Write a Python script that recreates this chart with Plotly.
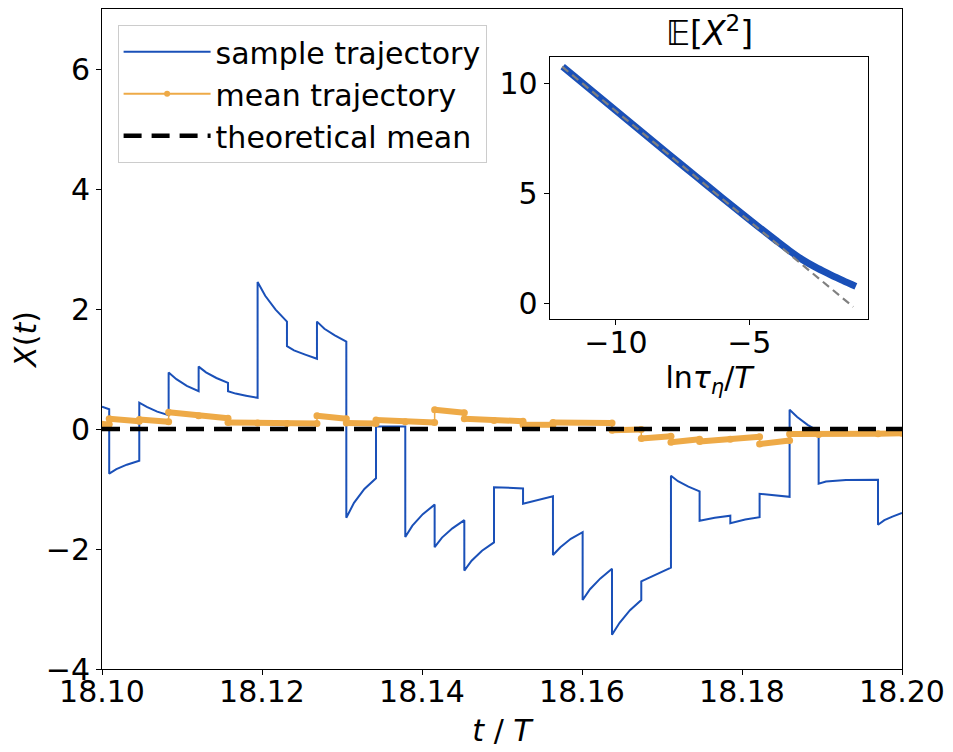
import plotly.graph_objects as go

# sample trajectory (jump process)
sample_t = [
    18.1000, 18.1009,
    18.1009, 18.1018, 18.1031, 18.10466,
    18.10466, 18.1056, 18.1069, 18.10833,
    18.10833, 18.1093, 18.1106, 18.11208,
    18.11208, 18.1130, 18.1143, 18.11575,
    18.11575, 18.1167, 18.1180, 18.11945,
    18.11945, 18.1204, 18.1217, 18.12312,
    18.12312, 18.1240, 18.1254, 18.12687,
    18.12687, 18.1278, 18.1291, 18.13054,
    18.13054, 18.1315, 18.1328, 18.13425,
    18.13425, 18.13791,
    18.13791, 18.1388, 18.1401, 18.14158,
    18.14158, 18.1425, 18.1438, 18.14529,
    18.14529, 18.1462, 18.1475, 18.14900,
    18.14900, 18.1508, 18.15263,
    18.15263, 18.1545, 18.15637,
    18.15637, 18.1573, 18.1586, 18.16008,
    18.16008, 18.1610, 18.1623, 18.16375,
    18.16375, 18.1647, 18.1660, 18.16741,
    18.16741, 18.1693, 18.17112,
    18.17112, 18.1720, 18.1733, 18.17470,
    18.17470, 18.1766, 18.17854,
    18.17854, 18.1804, 18.18220,
    18.18220, 18.1841, 18.18595,
    18.18595, 18.1869, 18.1882, 18.18958,
    18.18958, 18.1905, 18.1930, 18.19700,
    18.19700, 18.1978, 18.1988, 18.2000,
]
sample_x = [
    0.37, 0.33,
    -0.745, -0.67, -0.595, -0.53,
    0.44, 0.37, 0.29, 0.23,
    0.94, 0.83, 0.72, 0.63,
    1.04, 0.945, 0.85, 0.77,
    0.63, 0.59, 0.555, 0.52,
    2.45, 2.22, 1.99, 1.79,
    1.38, 1.31, 1.24, 1.17,
    1.79, 1.67, 1.56, 1.455,
    -1.48, -1.23, -1.00, -0.82,
    0.04, 0.04,
    -1.80, -1.61, -1.42, -1.26,
    -1.97, -1.81, -1.655, -1.52,
    -2.36, -2.195, -2.03, -1.89,
    -0.97, -0.985, -0.99,
    -1.245, -1.18, -1.12,
    -2.10, -1.97, -1.83, -1.72,
    -2.85, -2.67, -2.49, -2.33,
    -3.43, -3.23, -3.02, -2.85,
    -2.54, -2.42, -2.31,
    -0.78, -0.87, -0.96, -1.04,
    -1.53, -1.48, -1.445,
    -1.57, -1.51, -1.47,
    -1.08, -1.11, -1.13,
    0.32, 0.20, 0.07, -0.04,
    -0.91, -0.875, -0.85, -0.845,
    -1.595, -1.52, -1.46, -1.40,
]

# mean trajectory
mean_t = [18.1000, 18.1009, 18.1009, 18.10466, 18.10466, 18.10833, 18.10833, 18.11208,
          18.11575, 18.11575, 18.11945, 18.12312, 18.12687, 18.12687, 18.13054, 18.13054,
          18.13425, 18.13425, 18.13791, 18.14158, 18.14158, 18.14529, 18.14529, 18.14900,
          18.15263, 18.15263, 18.15637, 18.15637, 18.16375, 18.16375, 18.16741, 18.16741,
          18.17112, 18.17112, 18.17470, 18.17470, 18.17854, 18.18220, 18.18220, 18.18595,
          18.18595, 18.18958, 18.19700, 18.20000]
mean_x = [0.08, 0.08, 0.17, 0.13, 0.16, 0.12, 0.28, 0.22,
          0.18, 0.11, 0.10, 0.09, 0.09, 0.22, 0.17, 0.10,
          0.09, 0.15, 0.12, 0.11, 0.32, 0.27, 0.17, 0.14,
          0.13, 0.07, 0.07, 0.11, 0.10, -0.02, -0.01, -0.16,
          -0.12, -0.22, -0.17, -0.21, -0.17, -0.13, -0.25, -0.19,
          -0.085, -0.09, -0.08, -0.07]

theo_t = [18.10, 18.20]
theo_x = [0, 0]

# inset: E[X^2] vs ln tau_eta / T
ln_tau = [-12, -11, -10, -9, -8, -7, -6, -5, -4, -3.5, -3, -2.5, -2, -1.5, -1]
ex2 = [10.75, 9.75, 8.75, 7.75, 6.75, 5.76, 4.77, 3.8, 2.85, 2.39, 1.97, 1.62, 1.32, 1.03, 0.76]
fit_tau = [-12.02, -1.1]
fit_ex2 = [10.75, -0.17]

blue = '#1a50b8'
orange = '#eeaa47'
font = 'DejaVu Sans'

# dense dots of the mean curve -> thick band broken at the jumps
band_t, band_x = [], []
for i in range(len(mean_t)):
    if i > 0 and mean_t[i] == mean_t[i-1]:
        band_t.append(None)
        band_x.append(None)
    band_t.append(mean_t[i])
    band_x.append(mean_x[i])

fig = go.Figure()
fig.add_trace(go.Scatter(x=sample_t, y=sample_x, mode='lines', name='sample trajectory',
                         line=dict(color=blue, width=2)))
fig.add_trace(go.Scatter(x=mean_t, y=mean_x, mode='lines', showlegend=False,
                         line=dict(color=orange, width=1.5)))
fig.add_trace(go.Scatter(x=band_t, y=band_x, mode='lines+markers', showlegend=False,
                         line=dict(color=orange, width=6), marker=dict(color=orange, size=7)))
fig.add_trace(go.Scatter(x=[None], y=[None], mode='lines+markers', name='mean trajectory',
                         line=dict(color=orange, width=2), marker=dict(color=orange, size=6)))
fig.add_trace(go.Scatter(x=theo_t, y=theo_x, mode='lines', name='theoretical mean',
                         line=dict(color='black', width=4.5, dash='18px,10px')))

fig.add_trace(go.Scatter(x=ln_tau, y=ex2, mode='lines', showlegend=False, line_shape='spline',
                         line=dict(color=blue, width=7), xaxis='x2', yaxis='y2'))
fig.add_trace(go.Scatter(x=fit_tau, y=fit_ex2, mode='lines', showlegend=False,
                         line=dict(color='gray', width=2.2, dash='8px,5px'), xaxis='x2', yaxis='y2'))

ax = dict(showline=True, mirror=True, linecolor='black', linewidth=1, showgrid=False,
          zeroline=False, ticks='outside', ticklen=5, tickcolor='black',
          tickfont=dict(family=font, size=30, color='black'))

# the page puts the plot 8px in from the top-left corner, so the figure is a bit smaller
fig.update_layout(
    width=945, height=744,
    margin=dict(l=94, r=51, t=1, b=83),
    paper_bgcolor='white', plot_bgcolor='white',
    font=dict(family=font, size=30, color='black'),
    xaxis=dict(ax, range=[18.10, 18.20], tickvals=[18.10, 18.12, 18.14, 18.16, 18.18, 18.20],
               tickformat='.2f', domain=[0, 1], ticklabelstandoff=-9,
               title=dict(text='<i>t</i> / <i>T</i>', font=dict(size=30), standoff=11)),
    yaxis=dict(ax, range=[-4, 7], tickvals=[-4, -2, 0, 2, 4, 6],
               ticktext=['\u22124', '\u22122', '0', '2', '4', '6'], domain=[0, 1],
               title=dict(text='<i>X</i>(<i>t</i>)', font=dict(size=30), standoff=8)),
    xaxis2=dict(ax, range=[-12.49, -0.53], tickvals=[-10, -5], ticktext=['\u221210', '\u22125'],
                domain=[0.5595, 0.958], anchor='y2', ticklabelstandoff=-8,
                title=dict(text='ln<i>\u03c4</i><sub><i>\u03b7</i></sub>/<i>T</i>',
                           font=dict(size=30), standoff=6)),
    yaxis2=dict(ax, range=[-0.71, 11.21], tickvals=[0, 5, 10],
                domain=[0.5308, 0.928], anchor='x2'),
    legend=dict(x=0.0195, y=0.976, xanchor='left', yanchor='top',
                bgcolor='rgba(255,255,255,0.8)', bordercolor='#cccccc', borderwidth=1,
                font=dict(family=font, size=30), itemwidth=87, tracegroupgap=0),
    annotations=[dict(text='\U0001d53c[<i>X</i><sup>2</sup>]', xref='paper', yref='paper',
                      x=0.759, y=0.928, xanchor='center', yanchor='bottom', yshift=2,
                      showarrow=False, font=dict(family=font, size=33))],
)

fig.write_html("out.html")
